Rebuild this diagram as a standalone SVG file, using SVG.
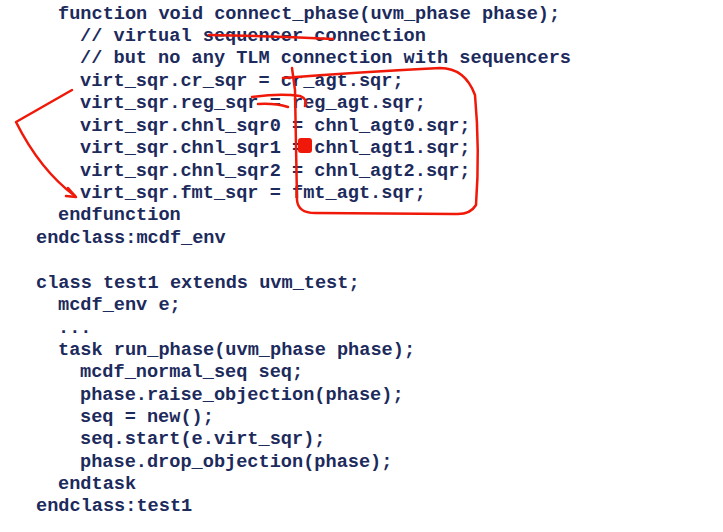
<svg xmlns="http://www.w3.org/2000/svg" width="723" height="532" viewBox="0 0 723 532">
<style>
.r{fill:none;stroke:#f01808;stroke-width:2.5;stroke-linecap:round;stroke-linejoin:round}
</style>
<rect width="723" height="532" fill="#fff"/>
<g id="code" font-family="'Liberation Mono', 'Courier New', 'DejaVu Sans Mono', monospace" font-size="18.6" font-weight="bold" fill="#1c2a5c" xml:space="preserve">
<text x="58" y="19">function void connect_phase(uvm_phase phase);</text>
<text x="80" y="41">// virtual sequencer connection</text>
<text x="80" y="63">// but no any TLM connection with sequencers</text>
<text x="80" y="86">virt_sqr.cr_sqr = cr_agt.sqr;</text>
<text x="80" y="108">virt_sqr.reg_sqr = reg_agt.sqr;</text>
<text x="80" y="131">virt_sqr.chnl_sqr0 = chnl_agt0.sqr;</text>
<text x="80" y="153">virt_sqr.chnl_sqr1 = chnl_agt1.sqr;</text>
<text x="80" y="176">virt_sqr.chnl_sqr2 = chnl_agt2.sqr;</text>
<text x="80" y="198">virt_sqr.fmt_sqr = fmt_agt.sqr;</text>
<text x="58" y="220">endfunction</text>
<text x="36" y="243">endclass:mcdf_env</text>
<text x="36" y="288">class test1 extends uvm_test;</text>
<text x="58" y="310">mcdf_env e;</text>
<text x="58" y="333">...</text>
<text x="58" y="355">task run_phase(uvm_phase phase);</text>
<text x="80" y="377">mcdf_normal_seq seq;</text>
<text x="80" y="400">phase.raise_objection(phase);</text>
<text x="80" y="422">seq = new();</text>
<text x="80" y="444">seq.start(e.virt_sqr);</text>
<text x="80" y="467">phase.drop_objection(phase);</text>
<text x="58" y="489">endtask</text>
<text x="36" y="511">endclass:test1</text>
</g>
<g id="annotations">
<path class="r" d="M209 35 Q270 36 333 39"/>
<path class="r" d="M283 78 Q360 72 440 68 Q465 68 475 95 Q480 150 476 205 Q470 215 455 214 L315 213 Q298 213 297 200 L295 90 L292 68"/>
<path class="r" d="M252 97 Q280 93 300 96 Q308 99 305 106"/>
<path class="r" d="M258 104 Q275 103 288 107"/>
<path class="r" d="M72 90 L16 122 Q40 170 75 196"/>
<path class="r" d="M68 188 L76 197 L66 196"/>
<rect x="298" y="138" width="14" height="15" rx="3" fill="#f01808"/>
</g>
</svg>
